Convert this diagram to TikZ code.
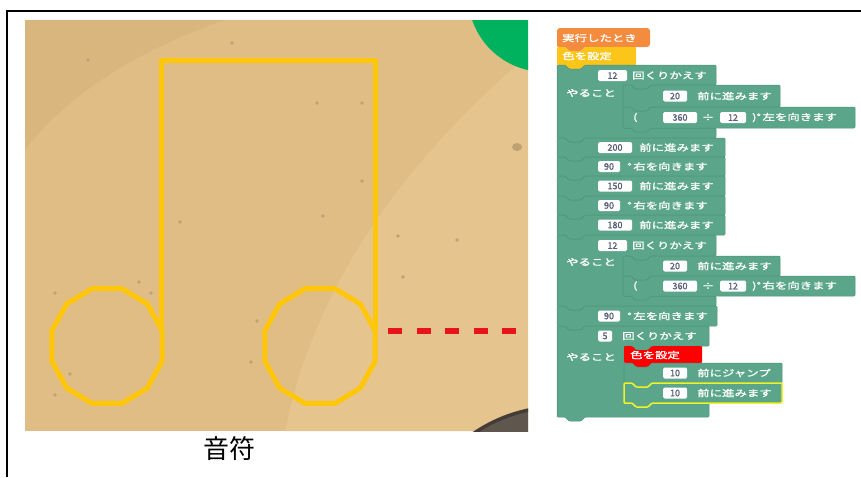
\documentclass[tikz,border=0pt]{standalone}
\usepackage{fontspec}
\newfontfamily\jp{Noto Sans CJK JP}
\newfontfamily\jpbold[FakeBold=1.2]{Noto Sans CJK JP}
\newfontfamily\jpwide[FakeStretch=1.38, FakeBold=1.4]{Noto Sans CJK JP}

\definecolor{sand}{HTML}{DFBD85}
\definecolor{sanddark}{HTML}{D9B67E}
\definecolor{sandlight}{HTML}{E5C48D}
\definecolor{speck}{HTML}{BFA173}
\definecolor{grass}{HTML}{00B25D}
\definecolor{rock}{HTML}{5F564D}
\definecolor{noteyellow}{HTML}{FFC60A}
\definecolor{jumpred}{HTML}{E8141B}
\definecolor{hatorange}{HTML}{F48C3F}
\definecolor{penyellow}{HTML}{FCC519}
\definecolor{penred}{HTML}{FF0000}
\definecolor{blkgreen}{HTML}{5BA68A}
\definecolor{blkedge}{HTML}{4E9077}
\definecolor{selyellow}{HTML}{EEF22A}
\definecolor{fieldtext}{HTML}{575E75}

\tikzset{
  note/.style={draw=noteyellow, line width=5pt, line join=round},
  jump/.style={draw=jumpred, line width=5.5pt, dash pattern=on 14pt off 14.5pt},
  blk/.style={fill=blkgreen, draw=blkedge, line width=0.5pt},
  lbl/.style={anchor=west, inner sep=0pt, text=white, font=\jpwide\fontsize{9}{9}\selectfont},
  field/.style={fill=white, rounded corners=1.5pt, inner sep=0pt, minimum height=11pt,
    text=fieldtext, font=\jpbold\fontsize{9}{9}\selectfont},
}

% x1 y1 x2 y2 options
\newcommand{\stackblock}[5]{%
  \path[#5, rounded corners=1pt] (#1,#2) -- ++(8,0) -- ++(4,4) -- ++(12,0) -- ++(4,-4)
    -- (#3,#2) -- (#3,#4) -- (#1+28,#4) -- ++(-4,4) -- ++(-12,0) -- ++(-4,-4)
    -- (#1,#4) -- cycle;}
\newcommand{\hatblock}[5]{%
  \path[#5, rounded corners=3pt] (#1,#4) -- (#1,#2) -- (#3,#2) -- (#3,#4)
    [rounded corners=1pt] -- (#1+28,#4) -- ++(-4,4) -- ++(-12,0) -- ++(-4,-4) -- cycle;}
% x1 y1 x2 yA xi yB y2 options
\newcommand{\loopblock}[8]{%
  \path[#8, rounded corners=1pt] (#1,#2) -- ++(8,0) -- ++(4,4) -- ++(12,0) -- ++(4,-4)
    -- (#3,#2) -- (#3,#4) -- (#5+28,#4) -- ++(-4,4) -- ++(-12,0) -- ++(-4,-4)
    -- (#5,#4) -- (#5,#6) -- (#3,#6) -- (#3,#7)
    -- (#1+28,#7) -- ++(-4,4) -- ++(-12,0) -- ++(-4,-4) -- (#1,#7) -- cycle;}

\begin{document}
\begin{tikzpicture}[x=1pt, y=-1pt]
\useasboundingbox (0,0) rectangle (861,477);
\draw[line width=1.2pt] (861,11) -- (7,11) -- (7,477);

% stage
\fill[sand] (25,20) rectangle (528,431);
\begin{scope}
  \clip (25,20) rectangle (528,431);
  \fill[sanddark] (25,20) -- (25,150) .. controls (70,90) and (150,45) .. (225,20) -- cycle;
  \fill[sandlight] (528,55) .. controls (430,140) and (320,260) .. (285,431) -- (528,431) -- cycle;
  \foreach \p in {(88,60),(232,43),(317,103),(362,103),(362,181),(180,222),(323,216),
      (139,282),(55,293),(151,293),(257,321),(251,362),(70,374),(55,395),(403,277),
      (398,236),(457,240)}
    \fill[speck] \p circle (1.8);
  \fill[speck] (517,147) ellipse (5 and 4);
  \fill[grass] (545,-5) circle (77);
  \fill[rock] (560,560) circle (155);
  \draw[rock!70!black, line width=3pt] (560,560) circle (153);
\end{scope}

% eighth note
\draw[note] (161,331) -- (161,60) -- (375,60) -- (375,331);
\foreach \cx in {107,320}
  \draw[note] (\cx,346) +(15:57 and 59.5) \foreach \a in {45,75,...,345} { -- +(\a:57 and 59.5) } -- cycle;

% jump
\coordinate (jumpstart) at (388,331);
\coordinate (jumpend) at (516,331);
\draw[jump] (jumpstart) -- (jumpend);

\node (caption) at (229,449) {\jp\fontsize{26}{26}\selectfont 音符};

% program
\hatblock{557}{28}{650}{47}{fill=hatorange}
\node (run) [lbl] at (562,38) {実行したとき};
\stackblock{557}{47}{636}{65}{fill=penyellow}
\node (pen1) [lbl] at (562,56) {色を設定};

% first circle
\loopblock{557}{65}{716}{85}{623}{128}{138}{blk}
\node (n12a) [field, minimum width=29pt] at (612.5,75.5) {12};
\node (rep1) [lbl] at (632,75.5) {回くりかえす};
\node (do1) [lbl] at (566,93) {やること};
\stackblock{623}{85}{780}{107}{blk}
\node (n20a) [field, minimum width=24pt] at (675,96) {20};
\node (fd1) [lbl] at (697,96) {前に進みます};
\stackblock{623}{107}{855}{128}{blk}
\node (po1) [lbl] at (633,117.5) {(};
\node (n360a) [field, minimum width=34pt] at (680,117.5) {360};
\node (div1) [lbl, anchor=center] at (708,117.5) {÷};
\node (n12b) [field, minimum width=26pt] at (733,117.5) {12};
\node (lt1) [lbl] at (752,117.5) {)°\,左を向きます};

% stem, beam, stem
\foreach \ya/\yb/\num/\w/\txt [count=\i] in {138/157/200/34/前に進みます,
    157/176/90/22/°\,右を向きます, 176/196/150/34/前に進みます,
    196/215/90/22/°\,右を向きます, 215/235/180/34/前に進みます} {
  \stackblock{557}{\ya}{725}{\yb}{blk}
  \node (sn\i) [field, minimum width=\w pt] at ({598+\w/2},{(\ya+\yb)/2}) {\num};
  \node (st\i) [lbl] at ({598+\w+7},{(\ya+\yb)/2}) {\txt};
}

% second circle
\loopblock{557}{235}{716}{256}{623}{296}{306}{blk}
\node (n12c) [field, minimum width=29pt] at (612.5,245.5) {12};
\node (rep2) [lbl] at (632,245.5) {回くりかえす};
\node (do2) [lbl] at (566,262) {やること};
\stackblock{623}{256}{780}{276}{blk}
\node (n20b) [field, minimum width=24pt] at (675,266) {20};
\node (fd2) [lbl] at (697,266) {前に進みます};
\stackblock{623}{276}{855}{296}{blk}
\node (po2) [lbl] at (633,286) {(};
\node (n360b) [field, minimum width=34pt] at (680,286) {360};
\node (div2) [lbl, anchor=center] at (708,286) {÷};
\node (n12d) [field, minimum width=26pt] at (733,286) {12};
\node (rt2) [lbl] at (752,286) {)°\,右を向きます};

\stackblock{557}{306}{717}{326}{blk}
\node (n90) [field, minimum width=22pt] at (609,316) {90};
\node (lt3) [lbl] at (627,316) {°\,左を向きます};

% dashes
\loopblock{557}{326}{709}{346}{624}{403}{417}{blk}
\node (n5) [field, minimum width=14pt] at (605,336) {5};
\node (rep3) [lbl] at (622,336) {回くりかえす};
\node (do3) [lbl] at (566,357) {やること};
\stackblock{624}{346}{702}{363}{fill=penred}
\node (pen2) [lbl] at (630,355) {色を設定};
\stackblock{624}{363}{782}{383}{blk}
\node (n10a) [field, minimum width=24pt] at (675,373) {10};
\node (jp1) [lbl] at (697,373) {前にジャンプ};
\stackblock{624}{383}{782}{403}{blk, draw=selyellow, line width=1.5pt}
\node (n10b) [field, minimum width=24pt] at (675,393) {10};
\node (fd3) [lbl] at (697,393) {前に進みます};
\end{tikzpicture}
\end{document}
